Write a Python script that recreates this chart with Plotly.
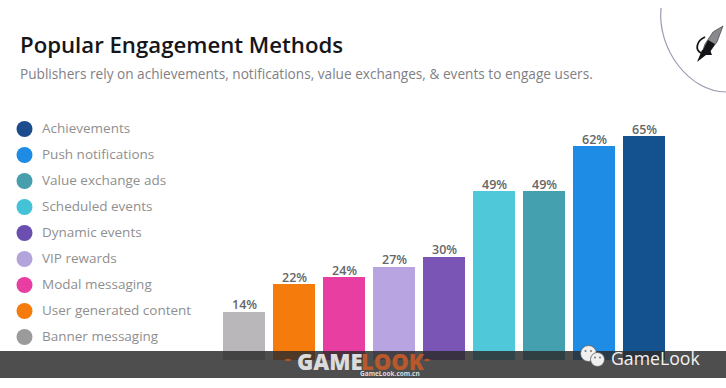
import plotly.graph_objects as go

# Data
categories = ["Banner messaging", "User generated content", "Modal messaging", "VIP rewards",
              "Dynamic events", "Scheduled events", "Value exchange ads", "Push notifications", "Achievements"]
values = [14, 22, 24, 27, 30, 49, 49, 62, 65]
colors = ["#b9b7ba", "#f57c0c", "#e83ea2", "#b7a4e0", "#7b55b5", "#4fc8da", "#449fae", "#1e8ce4", "#14518f"]
legend_colors = ["#9b9b9b", "#f57c0c", "#e83ea2", "#b3a5dc", "#6a4fb0", "#45c3d6", "#479fae", "#1e8ce4", "#1c4c8c"]

W, H = 726, 388
FONT = "Open Sans"
PX_PER_PCT = 3.446
BASE = 360

def X(p): return p / W
def Y(p): return 1 - p / H
def path(*cmds): return " ".join(cmds)
def P(x, y): return f"{X(x)} {Y(y)}"

idx = list(range(len(categories)))

fig = go.Figure()
fig.add_trace(go.Bar(
    x=idx, y=values, width=0.84,
    marker=dict(color=colors, line=dict(width=0)),
    hoverinfo="x+y", xaxis="x", yaxis="y", showlegend=False))

# legend as dots and labels on their own rank axes
fig.add_trace(go.Scatter(
    x=[0]*len(categories), y=idx, mode="markers",
    marker=dict(size=16, color=legend_colors, line=dict(width=0)),
    xaxis="x2", yaxis="y2", showlegend=False, cliponaxis=False))
fig.add_trace(go.Scatter(
    x=[1]*len(categories), y=idx, mode="text",
    text=categories, textposition="middle right",
    textfont=dict(family=FONT, size=13.5, color="#8f8f8f"),
    xaxis="x2", yaxis="y3", showlegend=False, cliponaxis=False))

shapes = [
    dict(type="rect", xref="paper", yref="paper", x0=0, x1=1, y0=Y(378), y1=Y(351),
         fillcolor="rgba(44,44,44,0.84)", line=dict(width=0), layer="above"),
    # corner arc
    dict(type="path", xref="paper", yref="paper",
         path=path(f"M {P(661, 8)}", f"C {P(657, 50)}, {P(690, 92)}, {P(726, 92)}"),
         line=dict(color="#9a9bb0", width=1.2)),
    # rocket body, upper lighter part
    dict(type="path", xref="paper", yref="paper",
         path=path(f"M {P(723, 26)}", f"L {P(713, 32)}", f"L {P(705, 44)}", f"L {P(703, 50)}",
                   f"L {P(710, 51)}", f"L {P(717, 42)}", "Z"),
         fillcolor="#8a8a8e", line=dict(color="#2a2a2e", width=0.6)),
    # rocket lower body
    dict(type="path", xref="paper", yref="paper",
         path=path(f"M {P(708, 40)}", f"L {P(703, 50)}", f"L {P(710, 52)}", f"L {P(715, 44)}", "Z"),
         fillcolor="#141418", line=dict(width=0)),
    # rocket left fin
    dict(type="path", xref="paper", yref="paper",
         path=path(f"M {P(705, 37)}", f"C {P(696, 41)}, {P(695, 50)}, {P(701, 53)}"),
         line=dict(color="#141418", width=1.8)),
    # rocket flame and right fin
    dict(type="path", xref="paper", yref="paper",
         path=path(f"M {P(702, 50)}", f"L {P(697, 62)}", f"L {P(706, 55)}", f"L {P(712, 55)}",
                   f"L {P(710, 50)}", "Z"),
         fillcolor="#141418", line=dict(width=0)),
]
# GAMELOOK logo stars
for cx in (288, 427):
    shapes.append(dict(type="path", xref="paper", yref="paper",
                       path=path(f"M {P(cx-4, 360)}", f"L {P(cx, 358.5)}", f"L {P(cx+4, 360)}",
                                 f"L {P(cx, 361.5)}", "Z"),
                       fillcolor="#b5532a", line=dict(width=0), layer="above"))
# wechat icon bubbles and eyes
for cx, cy, r in [(588.5, 353.5, 8), (597.5, 359.5, 7)]:
    shapes.append(dict(type="circle", xref="paper", yref="paper", x0=X(cx-r), x1=X(cx+r),
                       y0=Y(cy+r), y1=Y(cy-r), fillcolor="#f0f0f0",
                       line=dict(color="#5a5a5a", width=0.8), layer="above"))
for cx, cy in [(585.5, 351), (591, 351), (595, 357.5), (600, 357.5)]:
    shapes.append(dict(type="circle", xref="paper", yref="paper", x0=X(cx-1), x1=X(cx+1),
                       y0=Y(cy+1), y1=Y(cy-1), fillcolor="#777777", line=dict(width=0), layer="above"))

def ann(x, y, text, size, color, weight=400, anchor="left"):
    return dict(xref="paper", yref="paper", x=X(x), y=Y(y), text=text, showarrow=False,
                xanchor=anchor, yanchor="middle",
                font=dict(family=FONT, size=size, color=color, weight=weight))

annotations = [
    ann(17.5, 44.5, "Popular Engagement Methods", 22.2, "#15151a", 600),
    ann(17.5, 73, "Publishers rely on achievements, notifications, value exchanges, & events to engage users.", 13.65, "#7f7f85"),
    ann(295, 360.5, "GAME", 22, "#dcdcdc", 800),
    ann(359, 360.5, "LOOK", 22, "#b9582a", 800),
    ann(390, 373.5, "GameLook.com.cn", 6.5, "#dddddd", 700, anchor="center"),
    ann(609, 358, "GameLook", 17.7, "#f2f2f2"),
]
# bar value labels
for i, v in zip(idx, values):
    annotations.append(dict(xref="x", yref="y", x=i, y=v, yshift=7, text=f"{v}%", showarrow=False,
                            xanchor="center", yanchor="middle",
                            font=dict(family=FONT, size=12.5, color="#666666", weight=600)))

fig.update_layout(
    width=W, height=H, autosize=False, margin=dict(l=0, r=0, t=0, b=0),
    paper_bgcolor="#ffffff", plot_bgcolor="rgba(0,0,0,0)",
    font=dict(family=FONT), bargap=0,
    xaxis=dict(range=[-244/50, (W-244)/50], visible=False, fixedrange=True),
    yaxis=dict(range=[-(H-BASE)/PX_PER_PCT, BASE/PX_PER_PCT], visible=False, fixedrange=True),
    xaxis2=dict(range=[-24.5/17.5, (W-24.5)/17.5], visible=False, overlaying="x", fixedrange=True),
    yaxis2=dict(range=[-(H-337)/26, 337/26], visible=False, overlaying="y", fixedrange=True),
    yaxis3=dict(range=[-(H-338)/26.1, 338/26.1], visible=False, overlaying="y", fixedrange=True),
    shapes=shapes, annotations=annotations, showlegend=False,
)
fig.write_html("out.html", post_script="document.body.style.margin='0';",
               config=dict(displayModeBar=False))
